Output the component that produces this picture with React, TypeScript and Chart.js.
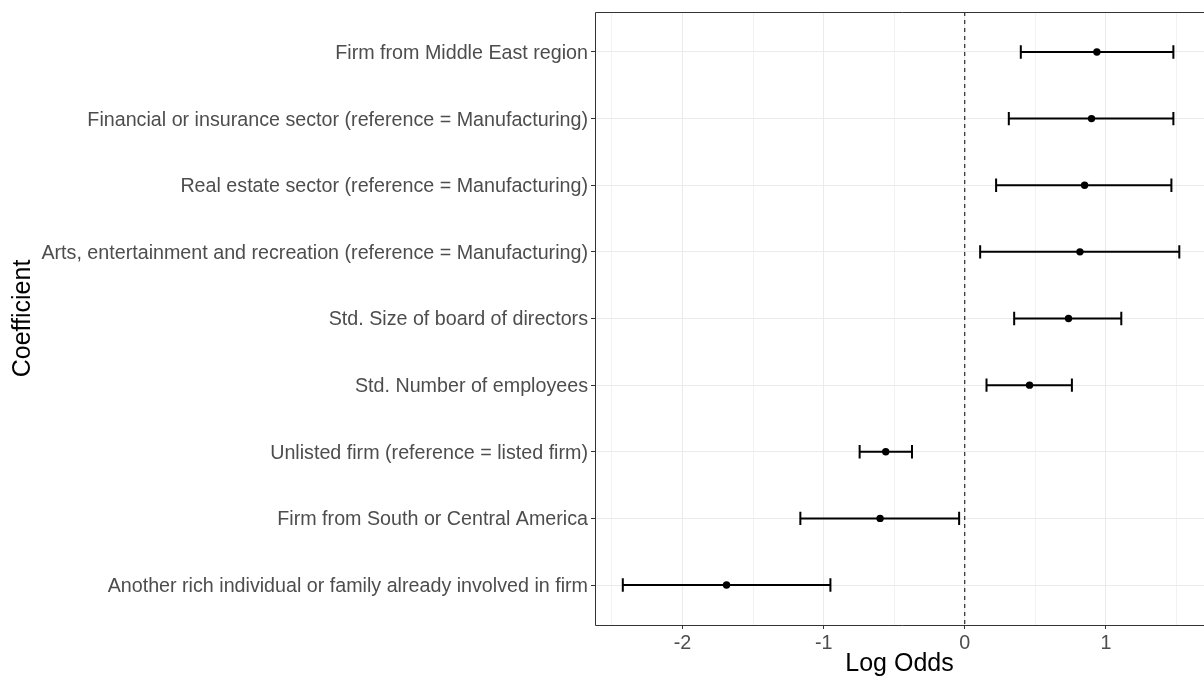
import React, { useEffect, useRef } from "react";
import { Chart, registerables } from "chart.js";

Chart.register(...registerables);

const labels: string[] = [
  "Firm from Middle East region",
  "Financial or insurance sector (reference = Manufacturing)",
  "Real estate sector (reference = Manufacturing)",
  "Arts, entertainment and recreation (reference = Manufacturing)",
  "Std. Size of board of directors",
  "Std. Number of employees",
  "Unlisted firm (reference = listed firm)",
  "Firm from South or Central America",
  "Another rich individual or family already involved in firm",
];
const estimates: number[] = [0.936, 0.898, 0.849, 0.816, 0.735, 0.459, -0.56, -0.6, -1.688];
const lower: number[] = [0.397, 0.312, 0.222, 0.109, 0.35, 0.154, -0.745, -1.165, -2.423];
const upper: number[] = [1.478, 1.478, 1.464, 1.52, 1.109, 0.759, -0.374, -0.04, -0.952];
const xTicks: number[] = [-2.5, -2, -1.5, -1, -0.5, 0, 0.5, 1, 1.5];
const xMin = -2.62;
const xMax = 1.695;

const FONT = "'Liberation Sans', Arial, sans-serif";

const errorBarPlugin = {
  id: "errorBars",
  beforeDatasetsDraw(chart: any) {
    const { ctx, scales } = chart;
    const xs = scales.x;
    const ys = scales.y;
    ctx.save();
    ctx.strokeStyle = "#000000";
    ctx.lineWidth = 2;
    ctx.lineCap = "butt";
    for (let i = 0; i < labels.length; i++) {
      const y = ys.getPixelForValue(i + 1);
      const x1 = xs.getPixelForValue(lower[i]);
      const x2 = xs.getPixelForValue(upper[i]);
      const cap = ys.getPixelForValue(1.1) - ys.getPixelForValue(1);
      ctx.beginPath();
      ctx.moveTo(x1, y);
      ctx.lineTo(x2, y);
      ctx.moveTo(x1, y - cap);
      ctx.lineTo(x1, y + cap);
      ctx.moveTo(x2, y - cap);
      ctx.lineTo(x2, y + cap);
      ctx.stroke();
    }
    ctx.restore();
  },
  afterDraw(chart: any) {
    const { ctx, chartArea } = chart;
    ctx.save();
    ctx.strokeStyle = "#333333";
    ctx.lineWidth = 1;
    const l = Math.round(chartArea.left) + 0.5;
    const t = Math.round(chartArea.top) + 0.5;
    const b = Math.round(chartArea.bottom) + 0.5;
    const r = chartArea.right + 10;
    ctx.beginPath();
    ctx.moveTo(r, t);
    ctx.lineTo(l, t);
    ctx.lineTo(l, b);
    ctx.lineTo(r, b);
    ctx.stroke();
    ctx.restore();
  },
};

export default function App() {
  const ref = useRef<HTMLCanvasElement | null>(null);
  useEffect(() => {
    if (!ref.current) return;
    const chart = new Chart(ref.current, {
      type: "scatter",
      data: {
        datasets: [
          {
            type: "line",
            data: [
              { x: 0, y: 0.4 },
              { x: 0, y: 9.6 },
            ],
            borderColor: "#000000",
            borderWidth: 1,
            borderDash: [4, 4],
            pointRadius: 0,
            fill: false,
          } as any,
          {
            type: "scatter",
            data: estimates.map((x, i) => ({ x, y: i + 1 })),
            backgroundColor: "#000000",
            borderColor: "#000000",
            pointRadius: 3.7,
            borderWidth: 0,
          },
        ],
      },
      options: {
        animation: false,
        responsive: false,
        devicePixelRatio: 1,
        layout: { padding: { top: 12, right: 0, bottom: 0, left: 0 } },
        plugins: { legend: { display: false }, tooltip: { enabled: false } },
        scales: {
          x: {
            type: "linear",
            min: xMin,
            max: xMax,
            afterBuildTicks: (s: any) => {
              s.ticks = xTicks.map((v) => ({ value: v }));
            },
            afterFit: (s: any) => {
              s.height = 54;
              s.paddingLeft = 0;
              s.paddingRight = 0;
            },
            ticks: {
              autoSkip: false,
              maxRotation: 0,
              padding: 3,
              color: "#4D4D4D",
              font: { family: FONT, size: 19.7 },
              callback: (v: any) => (Number.isInteger(v) ? String(v) : ""),
            },
            grid: {
              color: (c: any) => (Number.isInteger(c.tick?.value) ? "#EBEBEB" : "#F2F2F2"),
              lineWidth: 1,
              tickLength: 4,
              tickColor: (c: any) => (Number.isInteger(c.tick?.value) ? "#333333" : "rgba(0,0,0,0)"),
            },
            border: { display: false },
            title: {
              display: true,
              text: "Log Odds",
              color: "#000000",
              font: { family: FONT, size: 25 },
              padding: { top: 0, bottom: 0 },
            },
          },
          y: {
            type: "linear",
            reverse: true,
            min: 0.4,
            max: 9.6,
            afterBuildTicks: (s: any) => {
              s.ticks = labels.map((_, i) => ({ value: i + 1 }));
            },
            afterFit: (s: any) => {
              s.width = 595;
              s.paddingTop = 0;
              s.paddingBottom = 0;
            },
            ticks: {
              autoSkip: false,
              padding: 3,
              labelOffset: 1.5,
              color: "#4D4D4D",
              font: { family: FONT, size: 19.7 },
              callback: (v: any) => labels[Math.round(v) - 1] ?? "",
            },
            grid: {
              color: "#EBEBEB",
              lineWidth: 1,
              tickLength: 4,
              tickColor: "#333333",
            },
            border: { display: false },
            title: {
              display: true,
              text: "Coefficient",
              color: "#000000",
              font: { family: FONT, size: 25 },
              padding: { top: 8, bottom: 0 },
            },
          },
        },
      },
      plugins: [errorBarPlugin],
    });
    return () => chart.destroy();
  }, []);
  return (
    <div
      style={{
        position: "fixed",
        left: 0,
        top: 0,
        width: 1204,
        height: 679,
        overflow: "hidden",
        background: "#fff",
      }}
    >
      <canvas ref={ref} width={1208} height={679} style={{ display: "block" }} />
    </div>
  );
}
